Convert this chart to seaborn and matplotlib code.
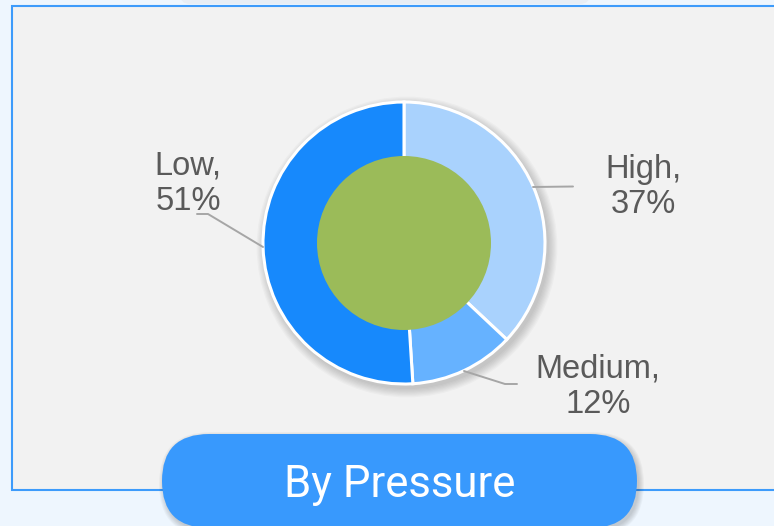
import matplotlib
matplotlib.use("Agg")
import matplotlib.pyplot as plt
import seaborn as sns
from matplotlib.patches import Rectangle, Circle, FancyBboxPatch

# ---- data ----
categories = ["High", "Medium", "Low"]
shares = [37, 12, 51]
slice_colors = ["#a9d2fd", "#66b2ff", "#1789fc"]
button_text = "By Pressure"

sns.set_theme(style="white")
plt.rcParams["font.family"] = ["Liberation Sans", "DejaVu Sans"]

W, H = 774, 526
fig = plt.figure(figsize=(W / 100, H / 100), dpi=100, facecolor="#eef6fe")
ax = fig.add_axes([0, 0, 1, 1])
ax.set_facecolor("#eef6fe")

def Y(y):
    return H - y

# faint shape at very top
ax.add_patch(FancyBboxPatch((180, Y(4)), 410, 30, boxstyle="round,pad=0,rounding_size=10",
                            facecolor="#e4e9ef", edgecolor="none", alpha=0.6, zorder=0))

# panel
ax.add_patch(Rectangle((11.5, Y(490)), 800, 484, facecolor="#f2f2f2",
                       edgecolor="#3d9bfb", lw=1.5, zorder=1))

cx, cy, R = 404, Y(243), 141

# donut shadow
for i in range(8):
    ax.add_patch(Circle((cx + 3, cy - 4), R + 1 + i * 1.2, facecolor="black",
                        edgecolor="none", alpha=0.025, zorder=2))

pal = sns.color_palette(slice_colors)
wedges, _ = ax.pie(shares, colors=pal, startangle=90, counterclock=False,
                   center=(cx, cy), radius=R, frame=True,
                   wedgeprops=dict(edgecolor="white", linewidth=2.2))
for w in wedges:
    w.set_zorder(3)

ax.add_patch(Circle((cx, cy), 87, facecolor="#9bbb59", edgecolor="none", zorder=4))

# leader lines (image coords)
leaders = [
    [(533, 187), (573, 186.5)],
    [(464, 371), (505, 384), (517, 384)],
    [(263, 247), (208, 214), (197, 214)],
]
for pts in leaders:
    ax.plot([p[0] for p in pts], [Y(p[1]) for p in pts], color="#a6a6a6", lw=1.4, zorder=5)

label_pos = [(643, 187), (598, 387), (188, 184)]
for cat, val, (lx, ly) in zip(categories, shares, label_pos):
    ax.text(lx, Y(ly), f"{cat},\n{val}%", ha="center", va="center", multialignment="center",
            fontsize=23.5, color="#5a5a5a", linespacing=1.18, zorder=6,
            family=["Liberation Sans", "DejaVu Sans"])

# button shadow + button
for i in range(6):
    ax.add_patch(FancyBboxPatch((162 + 2 - i, Y(528) - 3 - i), 475 + 2 * i, 94 + 2 * i,
                                boxstyle=f"round,pad=0,rounding_size={47 + i}",
                                facecolor="black", edgecolor="none", alpha=0.03, zorder=7))
ax.add_patch(FancyBboxPatch((162, Y(528)), 475, 94, boxstyle="round,pad=0,rounding_size=47",
                            facecolor="#3899fd", edgecolor="none", zorder=8))
ax.text(400, Y(497), button_text, ha="center", va="baseline", fontsize=31.5,
        color="white", family=["Roboto", "DejaVu Sans"], zorder=9)

ax.set_xlim(0, W)
ax.set_ylim(0, H)
ax.set_aspect("equal", adjustable="box")
ax.axis("off")

fig.savefig("out.png", dpi=100, facecolor=fig.get_facecolor())
